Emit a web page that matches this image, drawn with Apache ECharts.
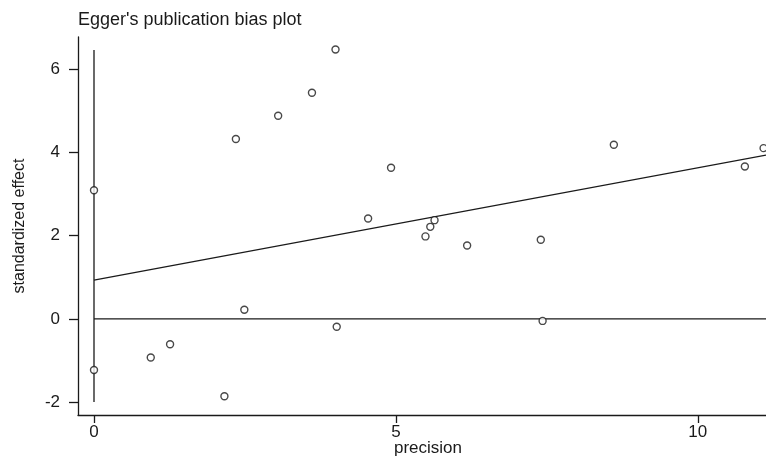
<!DOCTYPE html>
<html>
<head>
<meta charset="utf-8">
<script src="https://cdn.jsdelivr.net/npm/echarts@6/dist/echarts.min.js"></script>
<style>html,body{margin:0;padding:0;background:#fff}#c{width:766px;height:457px}</style>
</head>
<body>
<div id="c"></div>
<script>
// Study points: precision (x) and standardized effect (y)
const precision = [0, 0, 0.94, 1.26, 2.16, 2.35, 2.49, 3.05, 3.61, 4.00, 4.02, 4.54, 4.92, 5.49, 5.57, 5.64, 6.18, 7.40, 7.43, 8.61, 10.78, 11.09];
const stdEffect = [3.09, -1.23, -0.93, -0.61, -1.86, 4.32, 0.22, 4.88, 5.43, 6.47, -0.19, 2.41, 3.63, 1.98, 2.21, 2.37, 1.76, 1.90, -0.05, 4.18, 3.66, 4.10];
// Egger regression
const intercept = 0.93;
const slope = 0.27;
// intercept confidence interval drawn at precision 0
const ciBounds = [-2.0, 6.46];
// axis extents and ticks
const xRange = [-0.265, 11.13];
const yRange = [-2.31, 6.77];
const xTicks = [0, 5, 10];
const yTicks = [-2, 0, 2, 4, 6];

const pts = precision.map((x, i) => [x, stdEffect[i]]);
const xEnd = xRange[1];
const regLine = [[0, intercept], [xEnd, intercept + slope * xEnd]];
const zeroLine = [[0, 0], [xEnd, 0]];
const ciLine = [[0, ciBounds[0]], [0, ciBounds[1]]];

const ink = '#1a1a1a';
const font = 'Liberation Sans, Arial, sans-serif';
const chart = echarts.init(document.getElementById('c'));
chart.setOption({
  animation: false,
  backgroundColor: '#fff',
  title: {
    text: "Egger's publication bias plot",
    left: 73, top: 6,
    textStyle: {fontFamily: font, fontSize: 18, fontWeight: 'normal', color: ink}
  },
  grid: {left: 78, right: 0, top: 37, bottom: 42, containLabel: false, outerBoundsMode: 'none'},
  xAxis: {
    type: 'value', min: xRange[0], max: xRange[1],
    name: 'precision', nameLocation: 'middle', nameGap: 25, nameMoveOverlap: false,
    nameTextStyle: {fontFamily: font, fontSize: 17, color: ink, padding: [0, 0, 0, 12]},
    axisLine: {show: true, onZero: false, lineStyle: {color: ink, width: 1.3}},
    axisTick: {show: true, length: 8, customValues: xTicks, lineStyle: {color: ink, width: 1.3}},
    axisLabel: {customValues: xTicks, fontFamily: font, fontSize: 17, color: ink, margin: 9},
    splitLine: {show: false}
  },
  yAxis: {
    type: 'value', min: yRange[0], max: yRange[1],
    name: 'standardized effect', nameLocation: 'middle', nameGap: 50,
    nameTextStyle: {fontFamily: font, fontSize: 16, color: ink},
    axisLine: {show: true, onZero: false, lineStyle: {color: ink, width: 1.3}},
    axisTick: {show: true, length: 9, customValues: yTicks, lineStyle: {color: ink, width: 1.3}},
    axisLabel: {customValues: yTicks, fontFamily: font, fontSize: 17, color: ink, margin: 18},
    splitLine: {show: false}
  },
  series: [
    {type: 'line', data: ciLine, symbol: 'none', lineStyle: {color: ink, width: 1.3}, z: 2},
    {type: 'line', data: zeroLine, symbol: 'none', lineStyle: {color: ink, width: 1.3}, z: 2},
    {type: 'line', data: regLine, symbol: 'none', lineStyle: {color: ink, width: 1.3}, z: 2},
    {type: 'scatter', data: pts, symbol: 'circle', symbolSize: 7,
     itemStyle: {color: '#fff', borderColor: ink, borderWidth: 1.4}, z: 3}
  ]
});
</script>
</body>
</html>
